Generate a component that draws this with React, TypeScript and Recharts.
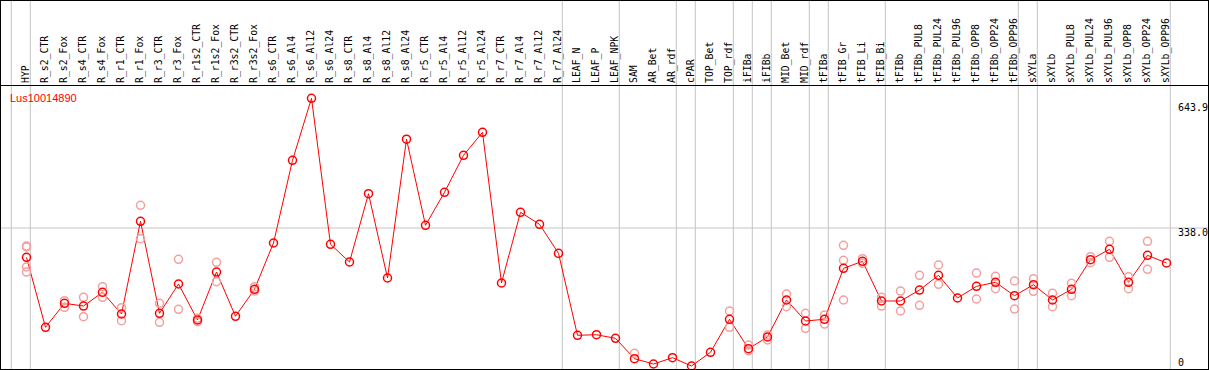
import { LineChart, Line, XAxis, YAxis, ReferenceLine } from "recharts";

const title = "Lus10014890";

const categories = [
  "HYP", "R_s2_CTR", "R_s2_Fox", "R_s4_CTR", "R_s4_Fox", "R_r1_CTR", "R_r1_Fox",
  "R_r3_CTR", "R_r3_Fox", "R_r1s2_CTR", "R_r1s2_Fox", "R_r3s2_CTR", "R_r3s2_Fox",
  "R_s6_CTR", "R_s6_Al4", "R_s6_Al12", "R_s6_Al24", "R_s8_CTR", "R_s8_Al4",
  "R_s8_Al12", "R_s8_Al24", "R_r5_CTR", "R_r5_Al4", "R_r5_Al12", "R_r5_Al24",
  "R_r7_CTR", "R_r7_Al4", "R_r7_Al12", "R_r7_Al24", "LEAF_N", "LEAF_P", "LEAF_NPK",
  "SAM", "AR_Bet", "AR_rdf", "cPAR", "TOP_Bet", "TOP_rdf", "iFIBa", "iFIBb",
  "MID_Bet", "MID_rdf", "tFIBa", "tFIB_Gr", "tFIB_Li", "tFIB_Bi", "tFIBb",
  "tFIBb_PUL8", "tFIBb_PUL24", "tFIBb_PUL96", "tFIBb_OPP8", "tFIBb_OPP24",
  "tFIBb_OPP96", "sXYLa", "sXYLb", "sXYLb_PUL8", "sXYLb_PUL24", "sXYLb_PUL96",
  "sXYLb_OPP8", "sXYLb_OPP24", "sXYLb_OPP96",
];

// mean expression per sample
const means = [
  267.5, 99.1, 156.8, 150.3, 183.3, 131.1, 354.1, 132.8, 203.3, 116.7, 232.1, 125.6, 190.5,
  301.9, 500.8, 650.0, 298.8, 256.2, 420.5, 217.7, 551.6, 344.5, 423.9, 512.9, 568.2,
  205.7, 375.8, 346.9, 277.1, 79.9, 81.3, 72.6, 23.6, 10.8, 26.0, 6.0, 39.0, 118.4,
  47.6, 75.8, 164.8, 114.3, 118.4, 241.0, 257.9, 162.4, 162.4, 188.8, 224.2, 169.6,
  197.7, 207.4, 175.1, 201.6, 164.8, 190.5, 261.7, 286.7, 207.4, 272.3, 253.8,
];

// replicate values (null = not shown)
const repA = [
  294.7, null, 163.1, 171.3, 196.8, 146.3, 392.6, 156.8, 262.7, 120.8, 255.5, null, 196.8,
  null, null, null, null, null, null, null, null, null, null, null, null,
  null, null, null, null, null, null, null, 36.6, null, null, null, null, 138.3,
  56.5, 80.6, 179.2, 132.8, 128.7, 296.4, 264.1, 171.3, 186.4, 224.2, 249.0, null,
  229.7, 221.8, 210.5, 216.0, 180.9, 205.0, 268.9, 306.0, 220.8, 306.0, null,
];
const repB = [
  244.2, null, 147.2, 124.6, 171.3, 115.0, 312.2, 111.1, 142.4, 112.6, 208.8, null, 186.4,
  null, null, null, null, null, null, null, null, null, null, null, null,
  null, null, null, null, null, null, null, null, null, null, null, null, 99.1,
  42.8, 68.6, 148.7, 96.7, 107.0, 260.3, 253.1, 150.3, 138.3, 152.0, 202.6, null,
  167.2, 192.0, 143.1, 185.7, 148.7, 175.1, 254.5, 267.5, 192.0, 238.6, null,
];
const repC = [
  232.1, null, null, null, null, null, null, null, null, null, null, null, null,
  null, null, null, null, null, null, null, null, null, null, null, null,
  null, null, null, null, null, null, null, null, null, null, null, null, null,
  null, null, null, null, null, 164.8, null, null, null, null, null, null,
  null, null, null, null, null, null, null, null, null, null, null,
];
const repD = [
  292.3, null, null, null, null, null, null, null, null, null, null, null, null,
  null, null, null, null, null, null, null, null, null, null, null, null,
  null, null, null, null, null, null, null, null, null, null, null, null, null,
  null, null, null, null, null, null, null, null, null, null, null, null,
  null, null, null, null, null, null, null, null, null, null, null,
];

// group separators sit just after these sample indexes
const groupBreaks = [-1, 0, 28, 31, 34, 35, 37, 38, 39, 41, 42, 45, 52, 53, 60];
const yTicks = [0, 338.0, 643.9];
const yTickLabels = ["0", "338.0", "643.9"];

const W = 1209;
const H = 370;
const RED = "#ff0000";
const PINK = "#f2a0a0";
const GRID = "#c4c4c4";
const MONO = "'DejaVu Sans Mono', 'Liberation Mono', monospace";

const data = categories.map((name, i) => ({
  i,
  name,
  mean: means[i],
  a: repA[i],
  b: repB[i],
  c: repC[i],
  d: repD[i],
}));

const CatTick = (props: any) => {
  const { x, payload } = props;
  return (
    <text
      transform={`translate(${x + 2.5},83) rotate(-90)`}
      textAnchor="start"
      fontFamily={MONO}
      fontSize={9.8}
      fill="#000"
    >
      {categories[payload.value]}
    </text>
  );
};

const ValTick = (props: any) => {
  const { y, payload } = props;
  const idx = yTicks.indexOf(payload.value);
  const dy = idx === 0 ? -3 : idx === 1 ? 7.5 : 10.5;
  return (
    <text x={1178} y={y + dy} textAnchor="start" fontFamily={MONO} fontSize={10} fill="#000">
      {yTickLabels[idx]}
    </text>
  );
};

const repDot = { r: 4, stroke: PINK, strokeWidth: 1.5, fill: "none" };

export default function App() {
  return (
    <div style={{ position: "relative", width: W, height: H, background: "#fff" }}>
      <style>{"body{margin:0}"}</style>
      <LineChart width={W} height={H} data={data} margin={{ top: 0, right: 0, bottom: 0, left: 0 }}>
        <XAxis
          dataKey="i"
          type="number"
          orientation="top"
          height={1}
          domain={[-1.3947, 62.184]}
          allowDataOverflow
          ticks={categories.map((_, i) => i)}
          interval={0}
          tickSize={0}
          tickMargin={0}
          axisLine={false}
          tickLine={false}
          tick={CatTick}
        />
        <YAxis
          type="number"
          orientation="right"
          width={1}
          domain={[-3.6, 884.1]}
          allowDataOverflow
          ticks={yTicks}
          interval={0}
          tickSize={0}
          tickMargin={0}
          axisLine={false}
          tickLine={false}
          tick={ValTick}
        />
        {groupBreaks.map((b) => (
          <ReferenceLine
            key={`sep-${b}`}
            x={b + 0.2}
            stroke={GRID}
            strokeWidth={1}
            ifOverflow="visible"
          />
        ))}
        <ReferenceLine y={338} stroke={GRID} strokeWidth={1} />
        <Line dataKey="a" stroke="none" dot={repDot} activeDot={false} isAnimationActive={false} />
        <Line dataKey="b" stroke="none" dot={repDot} activeDot={false} isAnimationActive={false} />
        <Line dataKey="c" stroke="none" dot={repDot} activeDot={false} isAnimationActive={false} />
        <Line dataKey="d" stroke="none" dot={repDot} activeDot={false} isAnimationActive={false} />
        <Line
          type="linear"
          dataKey="mean"
          stroke={RED}
          strokeWidth={1}
          dot={{ r: 4, stroke: RED, strokeWidth: 1.5, fill: "none" }}
          activeDot={false}
          isAnimationActive={false}
        />
      </LineChart>
      <div
        style={{
          position: "absolute",
          left: 0,
          top: 85,
          width: W,
          height: 1,
          background: "#000",
        }}
      />
      <div
        style={{
          position: "absolute",
          left: 10,
          top: 92,
          color: RED,
          fontFamily: "'Liberation Sans', Arial, sans-serif",
          fontSize: 11,
          lineHeight: "12px",
        }}
      >
        {title}
      </div>
      <div
        style={{
          position: "absolute",
          left: 0,
          top: 0,
          width: W,
          height: H,
          boxSizing: "border-box",
          border: "1px solid #000",
          pointerEvents: "none",
        }}
      />
    </div>
  );
}
